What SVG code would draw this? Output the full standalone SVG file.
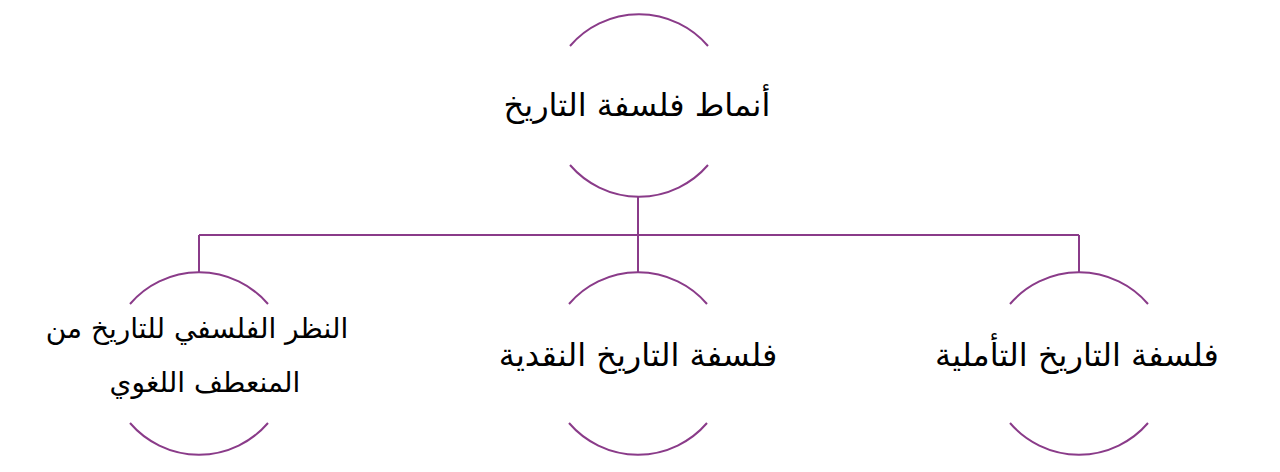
<svg xmlns="http://www.w3.org/2000/svg" width="1280" height="472" viewBox="0 0 1280 472">
<style>
.arc{fill:none;stroke:#8a3b89;stroke-width:2}
.ln{fill:none;stroke:#8a3b89;stroke-width:2}
.t{font-family:"DejaVu Sans",sans-serif;font-size:32px;fill:#000;text-anchor:middle;direction:rtl}
.s{font-size:28px}
</style>
<rect width="1280" height="472" fill="#fff"/>
<g id="connectors">
<path class="ln" d="M638 197 V235 M199 235 H1079 M199 235 V272 M638 235 V272 M1079 235 V272"/>
</g>
<g id="root">
<path class="arc" d="M570 46 A91 91 0 0 1 708 46"/>
<path class="arc" d="M570 165 A91 91 0 0 0 708 165"/>
<text class="t" x="637" y="116">أنماط فلسفة التاريخ</text>
</g>
<g id="n1">
<path class="arc" d="M130 304 A91 91 0 0 1 268 304"/>
<path class="arc" d="M130 423 A91 91 0 0 0 268 423"/>
<text class="t s" x="197" y="338">النظر الفلسفي للتاريخ من</text>
<text class="t s" x="205" y="392">المنعطف اللغوي</text>
</g>
<g id="n2">
<path class="arc" d="M569 304 A91 91 0 0 1 707 304"/>
<path class="arc" d="M569 423 A91 91 0 0 0 707 423"/>
<text class="t" x="638" y="366">فلسفة التاريخ النقدية</text>
</g>
<g id="n3">
<path class="arc" d="M1010 304 A91 91 0 0 1 1148 304"/>
<path class="arc" d="M1010 423 A91 91 0 0 0 1148 423"/>
<text class="t" x="1077" y="366">فلسفة التاريخ التأملية</text>
</g>
</svg>
